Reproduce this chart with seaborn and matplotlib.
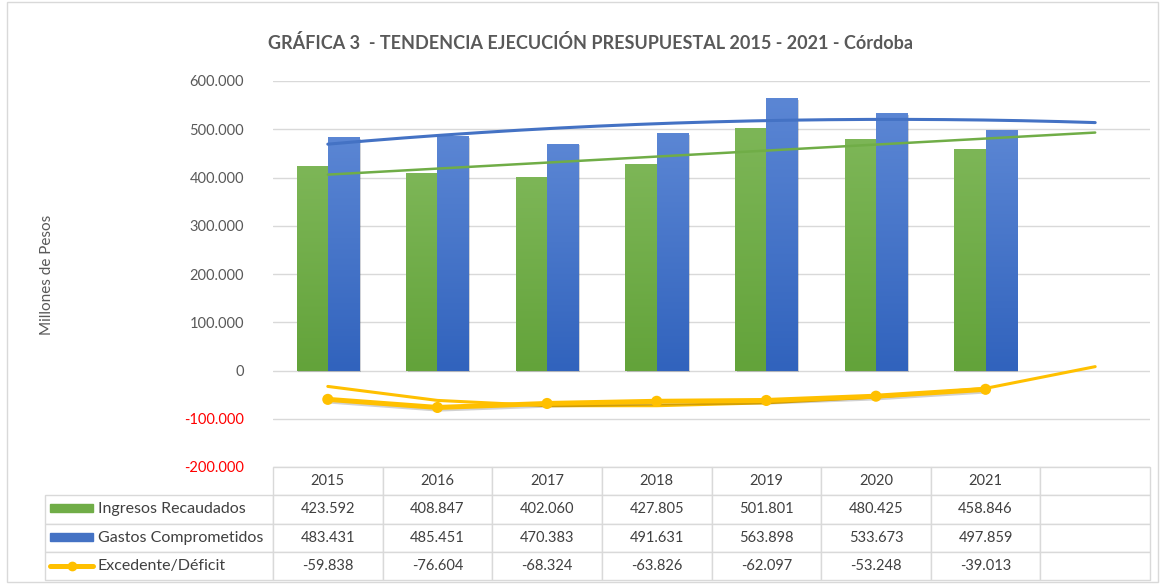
import numpy as np
import pandas as pd
import matplotlib
matplotlib.use("Agg")
from matplotlib import pyplot as plt
from matplotlib import patheffects as pe
from matplotlib.colors import LinearSegmentedColormap
from matplotlib.patches import Rectangle
from matplotlib.lines import Line2D
import seaborn as sns

years = ["2015", "2016", "2017", "2018", "2019", "2020", "2021"]
ingresos = [423592, 408847, 402060, 427805, 501801, 480425, 458846]
gastos = [483431, 485451, 470383, 491631, 563898, 533673, 497859]
excedente = [-59838, -76604, -68324, -63826, -62097, -53248, -39013]
# tendencia del excedente (con un periodo extra)
tend_excedente = [-33000, -62000, -73000, -73000, -67000, -55000, -37000, 8000]
series = ["Ingresos Recaudados", "Gastos Comprometidos", "Excedente/Déficit"]
yticks = [-200000, -100000, 0, 100000, 200000, 300000, 400000, 500000, 600000]

GREEN = "#70AD47"
BLUE = "#4472C4"
YELLOW = "#FFC000"
GRID = "#D9D9D9"
TXT = "#595959"

W, H = 1162, 584


def fmt(v):
    return f"{v:,.0f}".replace(",", ".")


sns.set_theme(style="white")
plt.rcParams["font.family"] = ["Lato", "DejaVu Sans"]

fig = plt.figure(figsize=(W / 100, H / 100), dpi=100)
ax = fig.add_axes([273 / W, 1 - 467 / H, 877 / W, 386 / H])

df = pd.DataFrame({
    "anio": years * 2,
    "valor": ingresos + gastos,
    "serie": [series[0]] * 7 + [series[1]] * 7,
})
sns.barplot(data=df, x="anio", y="valor", hue="serie", order=years + [""],
            palette=[GREEN, BLUE], width=0.57, saturation=1, errorbar=None,
            legend=False, ax=ax)

# degradado y sombra de las barras
grads = [("#63A33A", "#7DB657"), ("#3163BD", "#5B86D4")]
bars = [p for p in ax.patches if p.get_height() != 0]
for i, p in enumerate(bars):
    lo, hi = grads[0] if i < 7 else grads[1]
    cmap = LinearSegmentedColormap.from_list("g", [lo, hi])
    x0, w, h = p.get_x(), p.get_width(), p.get_height()
    p.set_path_effects([pe.SimplePatchShadow(offset=(1.2, -1.2), alpha=0.2), pe.Normal()])
    p.set_linewidth(0)
    im = ax.imshow(np.linspace(0, 1, 100).reshape(-1, 1), cmap=cmap, origin="lower",
                   extent=[x0, x0 + w, 0, h], aspect="auto", zorder=p.get_zorder() + 0.1)
    im.set_clip_path(p)

# lineas de tendencia
xs = np.linspace(0, 7, 200)
c_ing = np.polyfit(range(7), ingresos, 1)
c_gas = np.polyfit(range(7), gastos, 2)
ax.plot(xs, np.polyval(c_gas, xs), color=BLUE, lw=2.2, zorder=5)
ax.plot(xs, np.polyval(c_ing, xs), color=GREEN, lw=1.8, zorder=5)
sns.lineplot(x=list(range(8)), y=tend_excedente, color=YELLOW, lw=2.2, ax=ax, zorder=5)

sns.lineplot(x=list(range(7)), y=excedente, color=YELLOW, lw=3.6, marker="o",
             markersize=8, markeredgewidth=0, ax=ax, zorder=6,
             path_effects=[pe.SimpleLineShadow(offset=(0.6, -1.2), alpha=0.2), pe.Normal()])

ax.set_xlim(-0.5, 7.5)
ax.set_ylim(-200000, 600000)
ax.set_yticks(yticks)
ax.set_yticklabels([fmt(v) for v in yticks])
for lbl, v in zip(ax.get_yticklabels(), yticks):
    lbl.set_color("#FF0000" if v < 0 else TXT)
ax.tick_params(axis="y", length=0, pad=21, labelsize=10.5)
ax.set_xticks([])
ax.set_xlabel("")
ax.set_ylabel("")
ax.yaxis.grid(True, color=GRID, lw=1)
ax.set_axisbelow(True)
for s in ax.spines.values():
    s.set_visible(False)

# tabla de datos
cell_text = [[""] + years + [""]]
for name, vals in zip(series, [ingresos, gastos, excedente]):
    cell_text.append([name] + [fmt(v) for v in vals] + [""])
lab_w = 228 / 877
tab = ax.table(cellText=cell_text, cellLoc="center", colWidths=[lab_w] + [0.125] * 8,
               bbox=[-lab_w, -113 / 386, 1 + lab_w, 113 / 386])
tab.auto_set_font_size(False)
tab.set_fontsize(10.5)
for (r, c), cell in tab.get_celld().items():
    cell.set_edgecolor(GRID)
    cell.set_linewidth(1)
    cell.get_text().set_color("#404040")
    if r == 0 and c == 0:
        cell.visible_edges = ""
    if c == 0 and r > 0:
        cell._loc = "left"
        cell.PAD = 0.232
        cell.get_text().set_horizontalalignment("left")
        cell.get_text().set_fontsize(11.5)

# claves de la leyenda dentro de la tabla
fig.add_artist(Rectangle((50 / W, 1 - 512 / H), 43 / W, 8 / H, color=GREEN, transform=fig.transFigure))
fig.add_artist(Rectangle((50 / W, 1 - 541 / H), 43 / W, 8 / H, color=BLUE, transform=fig.transFigure))
fig.add_artist(Line2D([50 / W, 93 / W], [1 - 566 / H] * 2, color=YELLOW, lw=3.6, transform=fig.transFigure))
fig.add_artist(Line2D([71.5 / W], [1 - 566 / H], color=YELLOW, marker="o", markersize=6, transform=fig.transFigure))

fig.text(591 / W, 1 - 43 / H, "GRÁFICA 3  - TENDENCIA EJECUCIÓN PRESUPUESTAL 2015 - 2021 - Córdoba",
         ha="center", va="center", fontsize=13, fontweight="bold", color=TXT)
fig.text(47 / W, 1 - 275 / H, "Millones de Pesos", rotation=90, ha="center", va="center",
         fontsize=11, color=TXT)

fig.add_artist(Rectangle((7 / W, 2 / H), 1151 / W, 580 / H, fill=False, ec=GRID, lw=1,
                         transform=fig.transFigure))

fig.savefig("out.png", dpi=100)
